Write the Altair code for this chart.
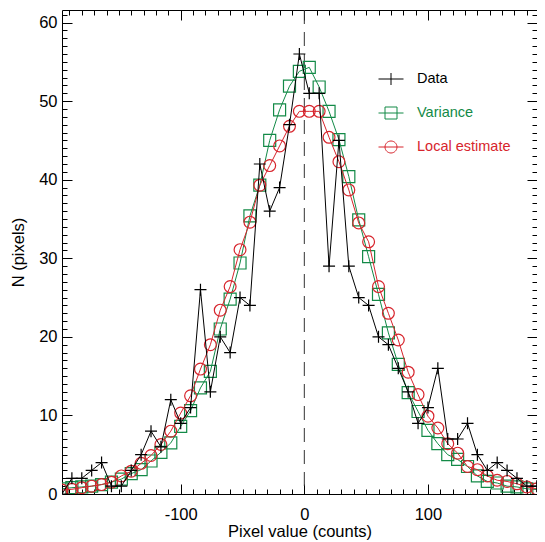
import altair as alt
import pandas as pd

# ---------------- data ----------------
X_CENTERS = [-196, -188, -180, -172, -164, -156, -148, -140, -132, -124,
             -116, -108, -100, -92, -84, -76, -68, -60, -52, -44,
             -36, -28, -20, -12, -4, 4, 12, 20, 28, 36,
             44, 52, 60, 68, 76, 84, 92, 100, 108, 116,
             124, 132, 140, 148, 156, 164, 172, 180, 188, 196]
DATA = [0, 2, 2, 3, 4, 1, 1, 3, 5, 8,
        6, 12, 9, 11, 26, 13, 20, 18, 25, 24,
        42, 36, 39, 47, 56, 51, 51, 29, 45, 29,
        25, 24, 20, 19, 16, 13, 9, 11, 16, 7,
        7, 9, 5, 3, 4, 3, 2, 1, 1, 1]
VARIANCE = [0.66, 0.8, 0.9, 1.0, 1.2, 1.5, 1.9, 2.6, 3.1, 4.2,
            5.3, 6.5, 8.6, 10.6, 13.5, 15.6, 21.0, 24.8, 29.4, 35.4,
            39.3, 45.0, 48.9, 51.9, 53.8, 54.3, 51.8, 48.7, 45.1, 40.4,
            34.9, 30.2, 25.4, 20.5, 16.5, 12.9, 10.5, 8.1, 6.4, 5.0,
            4.4, 3.5, 2.3, 1.6, 1.4, 1.0, 0.9, 0.66, 0.57, 0.5]
LOCAL = [0.5, 0.6, 0.8, 1.0, 1.2, 1.5, 2.3, 2.9, 3.9, 4.9,
         6.3, 8.0, 10.3, 12.5, 15.9, 19.0, 23.4, 26.4, 31.1, 34.6,
         39.3, 41.8, 44.3, 46.8, 48.7, 48.7, 48.7, 45.4, 42.3, 38.7,
         34.5, 32.1, 26.4, 23.0, 19.6, 15.5, 12.65, 9.9, 8.4, 6.4,
         5.2, 3.5, 3.1, 2.3, 1.75, 1.6, 1.3, 0.9, 0.66, 0.5]

SERIES = ["Data", "Variance", "Local estimate"]
ZERO_LINE = [0]

X_DOMAIN = [-196, 188.2]
Y_DOMAIN = [0, 61.6]
X_MAJOR = [-100, 0, 100]
X_TICKS = [-190, -180, -170, -160, -150, -140, -130, -120, -110, -100,
           -90, -80, -70, -60, -50, -40, -30, -20, -10, 0,
           10, 20, 30, 40, 50, 60, 70, 80, 90, 100,
           110, 120, 130, 140, 150, 160, 170, 180]
Y_MAJOR = [0, 10, 20, 30, 40, 50, 60]
Y_TICKS = list(range(0, 62))

# ---------------- styles ----------------
BLACK, GREEN, RED = "#000000", "#138a47", "#d7242c"
COLORS = [BLACK, GREEN, RED]
FONT = "Liberation Sans"
CROSS = "M-1,0H1M0,-1V1"
LEG_SHAPES = [
    "M-1,0H1M0,-0.48V0.48",
    "M-1,0H1M-0.48,-0.48H0.48V0.48H-0.48Z",
    "M-1,0H1M-0.48,0A0.48,0.48,0,1,0,0.48,0A0.48,0.48,0,1,0,-0.48,0Z",
]

df = pd.DataFrame({"x": X_CENTERS, "data": DATA, "variance": VARIANCE, "local": LOCAL})


def is_major(vals):
    return "indexof([%s], datum.value) >= 0" % ",".join(str(v) for v in vals)


def make_axis(orient, ticks, majors, labeled, title=None, label_pad=5, title_pad=8):
    test = is_major(majors)
    props = dict(
        orient=orient, values=ticks, offset=-10, tickSize=10, domain=False, grid=False,
        tickColor=BLACK, tickWidth=1,
        tickDash={"condition": {"test": test, "value": [10, 0]}, "value": [5, 5]},
        tickDashOffset={"condition": {"test": test, "value": 0}, "value": 5},
        labelOverlap=False, labelFlush=False,
    )
    if labeled:
        props.update(
            labels=True, labelExpr="%s ? '' + datum.value : ''" % test,
            labelFont=FONT, labelFontSize=16.5, labelColor=BLACK, labelPadding=label_pad,
            title=title, titleFont=FONT, titleFontSize=16.5, titleFontWeight="normal",
            titleColor=BLACK, titlePadding=title_pad,
        )
    else:
        props.update(labels=False, title=None)
    return alt.Axis(**props)


xs = alt.Scale(domain=X_DOMAIN, nice=False, zero=False)
ys = alt.Scale(domain=Y_DOMAIN, nice=False, zero=False)

ax_bottom = make_axis("bottom", X_TICKS, X_MAJOR, True, "Pixel value (counts)", label_pad=12, title_pad=1)
ax_top = make_axis("top", X_TICKS, X_MAJOR, False)
ax_left = make_axis("left", Y_TICKS, Y_MAJOR, True, "N (pixels)", label_pad=5, title_pad=12)
ax_right = make_axis("right", Y_TICKS, Y_MAJOR, False)

base = alt.Chart(df)

data_line = base.mark_line(color=BLACK, strokeWidth=1, clip=True).encode(
    x=alt.X("x:Q", scale=xs, axis=ax_bottom),
    y=alt.Y("data:Q", scale=ys, axis=ax_left),
)
data_pts = base.mark_point(shape=CROSS, color=BLACK, filled=False, size=144, strokeWidth=1.2,
                           opacity=1, clip=True).encode(
    x=alt.X("x:Q", scale=xs, axis=None),
    y=alt.Y("data:Q", scale=ys, axis=None),
)
var_line = base.mark_line(color=GREEN, strokeWidth=1, clip=True).encode(
    x=alt.X("x:Q", scale=xs, axis=ax_top),
    y=alt.Y("variance:Q", scale=ys, axis=ax_right),
)
var_pts = base.mark_point(shape="square", color=GREEN, filled=False, size=144, strokeWidth=1.2,
                          opacity=1, clip=True).encode(
    x=alt.X("x:Q", scale=xs, axis=None),
    y=alt.Y("variance:Q", scale=ys, axis=None),
)
loc_line = base.mark_line(color=RED, strokeWidth=1, clip=True).encode(
    x=alt.X("x:Q", scale=xs, axis=None),
    y=alt.Y("local:Q", scale=ys, axis=None),
)
loc_pts = base.mark_point(shape="circle", color=RED, filled=False, size=140, strokeWidth=1.2,
                          opacity=1, clip=True).encode(
    x=alt.X("x:Q", scale=xs, axis=None),
    y=alt.Y("local:Q", scale=ys, axis=None),
)
zero_rule = alt.Chart(pd.DataFrame({"zero": ZERO_LINE})).mark_rule(
    color="#333333", strokeWidth=1, strokeDash=[14, 8]
).encode(x=alt.X("zero:Q", scale=xs, axis=None))

label_color_expr = "datum.label == '%s' ? '%s' : (datum.label == '%s' ? '%s' : '%s')" % (
    SERIES[0], COLORS[0], SERIES[1], COLORS[1], COLORS[2])
legend = alt.Legend(
    orient="none", legendX=316, legendY=56, title=None, padding=0,
    symbolSize=625, symbolStrokeWidth=1, symbolOpacity=1, symbolFillColor="transparent",
    labelFont=FONT, labelFontSize=14.5, labelOffset=13, rowPadding=13,
    labelColor={"expr": label_color_expr}, labelLimit=300,
)
legend_layer = alt.Chart(pd.DataFrame({"series": SERIES})).mark_point(
    filled=False, opacity=0, size=625
).encode(
    color=alt.Color("series:N", scale=alt.Scale(domain=SERIES, range=COLORS), legend=legend),
    shape=alt.Shape("series:N", scale=alt.Scale(domain=SERIES, range=LEG_SHAPES), legend=legend),
)

chart = alt.layer(
    zero_rule, var_line, var_pts, loc_line, loc_pts, data_line, data_pts, legend_layer
).resolve_axis(x="independent", y="independent").properties(
    width=475, height=484,
    autosize=alt.AutoSizeParams(type="none"),
    padding={"left": 54, "top": 2, "right": 0, "bottom": 48},
).configure_view(stroke=BLACK, strokeWidth=1)

chart.save("out.html", embed_options={"renderer": "svg", "actions": False})
